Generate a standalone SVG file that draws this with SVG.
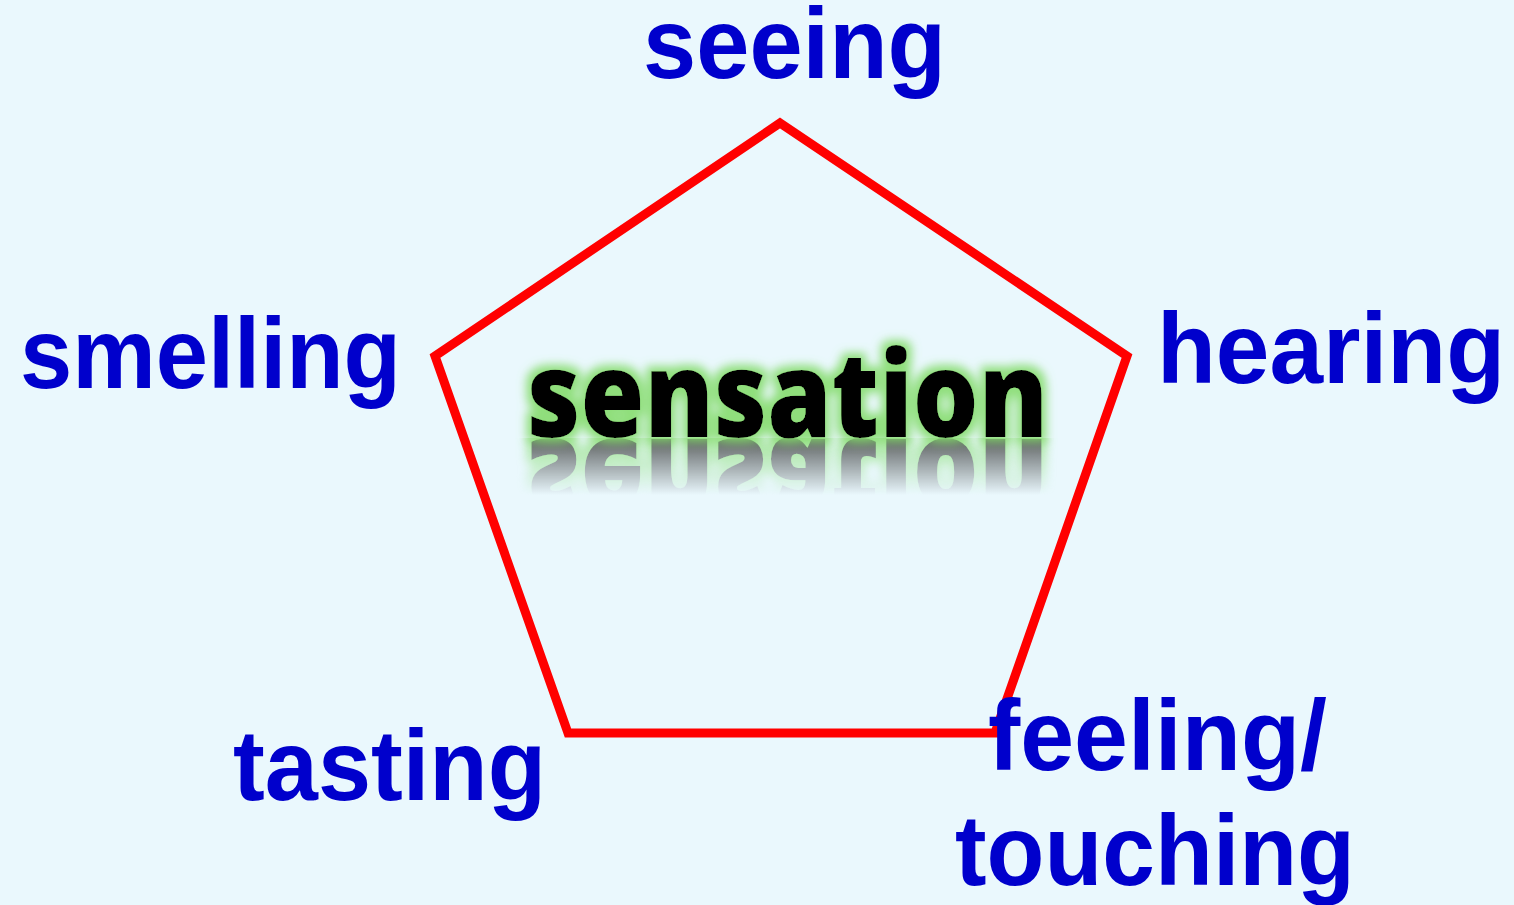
<svg xmlns="http://www.w3.org/2000/svg" width="1514" height="905" viewBox="0 0 1514 905">
<defs>
<style>
.lbl{font-family:"Liberation Sans","Arial",sans-serif;font-weight:700;font-size:100px;fill:#0000CC;}
.sens{font-family:"Noto Sans","Liberation Sans",sans-serif;font-weight:900;font-size:118px;}
</style>
<filter id="glow" x="-10%" y="-30%" width="120%" height="160%">
<feMorphology in="SourceAlpha" operator="dilate" radius="5" result="d"/>
<feGaussianBlur in="d" stdDeviation="5" result="b"/>
<feFlood flood-color="#86dc6e" flood-opacity="0.9"/>
<feComposite in2="b" operator="in" result="g"/>
<feMerge><feMergeNode in="g"/><feMergeNode in="SourceGraphic"/></feMerge>
</filter>
<linearGradient id="fade" gradientUnits="userSpaceOnUse" x1="0" y1="440" x2="0" y2="495">
<stop offset="0" stop-color="#fff" stop-opacity="0.75"/>
<stop offset="1" stop-color="#fff" stop-opacity="0"/>
</linearGradient>
<mask id="m" maskUnits="userSpaceOnUse" x="0" y="0" width="1514" height="905">
<rect x="0" y="438" width="1514" height="70" fill="url(#fade)"/>
</mask>
</defs>
<rect width="1514" height="905" fill="#EAF8FD"/>
<g id="connectors">
<polygon points="780,123 1127,356 995,733 568,733 435,356" fill="none" stroke="#FF0000" stroke-width="9" stroke-linejoin="miter"/>
</g>
<g id="center">
<g mask="url(#m)">
<g transform="translate(0,876) scale(1,-1)" filter="url(#glow)">
<text class="sens" x="527" y="437" textLength="521" lengthAdjust="spacingAndGlyphs" fill="#333">sensation</text>
</g>
</g>
<g filter="url(#glow)">
<text class="sens" x="527" y="437" textLength="521" lengthAdjust="spacingAndGlyphs" fill="#000">sensation</text>
</g>
</g>
<g id="seeing"><text class="lbl" x="643" y="78" textLength="303" lengthAdjust="spacingAndGlyphs">seeing</text></g>
<g id="hearing"><text class="lbl" x="1157" y="383" textLength="348" lengthAdjust="spacingAndGlyphs">hearing</text></g>
<g id="smelling"><text class="lbl" x="20" y="388" textLength="381" lengthAdjust="spacingAndGlyphs">smelling</text></g>
<g id="tasting"><text class="lbl" x="233" y="800" textLength="313" lengthAdjust="spacingAndGlyphs">tasting</text></g>
<g id="feeling"><text class="lbl" x="988" y="770" textLength="339" lengthAdjust="spacingAndGlyphs">feeling/</text>
<text class="lbl" x="955" y="885" textLength="400" lengthAdjust="spacingAndGlyphs">touching</text></g>
</svg>
